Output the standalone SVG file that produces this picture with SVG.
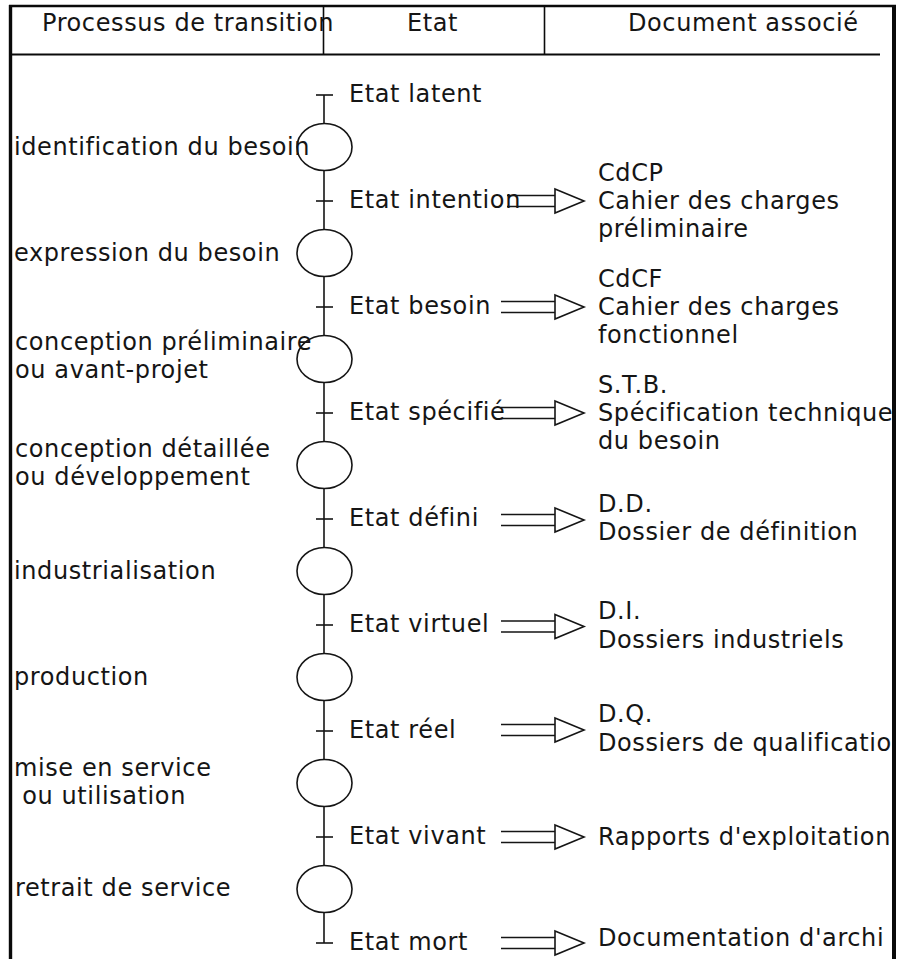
<svg xmlns="http://www.w3.org/2000/svg" width="899" height="959" viewBox="0 0 899 959">
<style>
text{font-family:"DejaVu Sans",Verdana,sans-serif;font-size:24px;letter-spacing:0.6px;fill:#151515}
.ln{stroke:#151515;stroke-width:1.6;fill:none}
.circ{stroke:#151515;stroke-width:1.6;fill:#fff}
.frame{stroke:#0a0a0a;fill:none}
</style>
<defs>
<clipPath id="clipR"><rect x="0" y="0" width="892" height="959"/></clipPath>
</defs>
<rect width="899" height="959" fill="#fff"/>
<g id="frame">
<line class="frame" x1="10.5" y1="5" x2="10.5" y2="959" stroke-width="3.4"/>
<line class="frame" x1="9" y1="6" x2="896" y2="6" stroke-width="2.6"/>
<line class="frame" x1="894" y1="5" x2="894" y2="959" stroke-width="4"/>
<line class="frame" x1="10" y1="54.5" x2="880" y2="54.5" stroke-width="2"/>
<line class="frame" x1="323.5" y1="6" x2="323.5" y2="54" stroke-width="1.6"/>
<line class="frame" x1="544.5" y1="6" x2="544.5" y2="54" stroke-width="1.6"/>
</g>
<g id="header">
<text x="42" y="31">Processus de transition</text>
<text x="407" y="31">Etat</text>
<text x="628" y="31">Document associé</text>
</g>
<g id="connectors">
<line class="ln" x1="324" y1="95" x2="324" y2="943"/>
<path class="ln" d="M507 195.5H555M507 206.5H555"/><polygon class="ln" points="555,189 584,201 555,213"/>
<path class="ln" d="M501 301.5H555M501 312.5H555"/><polygon class="ln" points="555,295 584,307 555,319"/>
<path class="ln" d="M501 407.5H555M501 418.5H555"/><polygon class="ln" points="555,401 584,413 555,425"/>
<path class="ln" d="M501 514.5H555M501 525.5H555"/><polygon class="ln" points="555,508 584,520 555,532"/>
<path class="ln" d="M501 621H555M501 632H555"/><polygon class="ln" points="555,614.5 584,626.5 555,638.5"/>
<path class="ln" d="M501 724.5H555M501 735.5H555"/><polygon class="ln" points="555,718 584,730 555,742"/>
<path class="ln" d="M501 831.5H555M501 842.5H555"/><polygon class="ln" points="555,825 584,837 555,849"/>
<path class="ln" d="M501 937.5H555M501 948.5H555"/><polygon class="ln" points="555,931 584,943 555,955"/>
</g>
<g id="states">
<g id="s-latent"><line class="ln" x1="316" y1="95" x2="333" y2="95"/><text x="349" y="102">Etat latent</text></g>
<g id="s-intention"><line class="ln" x1="316" y1="201" x2="333" y2="201"/><text x="349" y="208">Etat intention</text></g>
<g id="s-besoin"><line class="ln" x1="316" y1="307" x2="333" y2="307"/><text x="349" y="314">Etat besoin</text></g>
<g id="s-specifie"><line class="ln" x1="316" y1="413" x2="333" y2="413"/><text x="349" y="420">Etat spécifié</text></g>
<g id="s-defini"><line class="ln" x1="316" y1="519" x2="333" y2="519"/><text x="349" y="526">Etat défini</text></g>
<g id="s-virtuel"><line class="ln" x1="316" y1="625" x2="333" y2="625"/><text x="349" y="632">Etat virtuel</text></g>
<g id="s-reel"><line class="ln" x1="316" y1="731" x2="333" y2="731"/><text x="349" y="738">Etat réel</text></g>
<g id="s-vivant"><line class="ln" x1="316" y1="837" x2="333" y2="837"/><text x="349" y="844">Etat vivant</text></g>
<g id="s-mort"><line class="ln" x1="316" y1="943" x2="333" y2="943"/><text x="349" y="950">Etat mort</text></g>
</g>
<g id="processes">
<g id="p1"><ellipse class="circ" cx="324.5" cy="147" rx="27.5" ry="23.5"/><text x="14" y="155">identification du besoin</text></g>
<g id="p2"><ellipse class="circ" cx="324.5" cy="253" rx="27.5" ry="23.5"/><text x="14" y="261">expression du besoin</text></g>
<g id="p3"><ellipse class="circ" cx="324.5" cy="359" rx="27.5" ry="23.5"/><text x="15" y="350">conception préliminaire</text><text x="15" y="378">ou avant-projet</text></g>
<g id="p4"><ellipse class="circ" cx="324.5" cy="465" rx="27.5" ry="23.5"/><text x="15" y="457">conception détaillée</text><text x="15" y="485">ou développement</text></g>
<g id="p5"><ellipse class="circ" cx="324.5" cy="571" rx="27.5" ry="23.5"/><text x="14" y="579">industrialisation</text></g>
<g id="p6"><ellipse class="circ" cx="324.5" cy="677" rx="27.5" ry="23.5"/><text x="14" y="685">production</text></g>
<g id="p7"><ellipse class="circ" cx="324.5" cy="783" rx="27.5" ry="23.5"/><text x="14" y="776">mise en service</text><text x="14" y="804" xml:space="preserve"> ou utilisation</text></g>
<g id="p8"><ellipse class="circ" cx="324.5" cy="889" rx="27.5" ry="23.5"/><text x="15" y="896">retrait de service</text></g>
</g>
<g id="documents" clip-path="url(#clipR)">
<g id="d1"><text x="598" y="181">CdCP</text><text x="598" y="209">Cahier des charges</text><text x="598" y="237">préliminaire</text></g>
<g id="d2"><text x="598" y="287">CdCF</text><text x="598" y="315">Cahier des charges</text><text x="598" y="343">fonctionnel</text></g>
<g id="d3"><text x="598" y="393">S.T.B.</text><text x="598" y="421">Spécification technique</text><text x="598" y="449">du besoin</text></g>
<g id="d4"><text x="598" y="512">D.D.</text><text x="598" y="540">Dossier de définition</text></g>
<g id="d5"><text x="598" y="619">D.I.</text><text x="598" y="648">Dossiers industriels</text></g>
<g id="d6"><text x="598" y="722">D.Q.</text><text x="598" y="751">Dossiers de qualificatio</text></g>
<g id="d7"><text x="598" y="845">Rapports d'exploitation</text></g>
<g id="d8"><text x="598" y="946">Documentation d'archi</text></g>
</g>
</svg>
